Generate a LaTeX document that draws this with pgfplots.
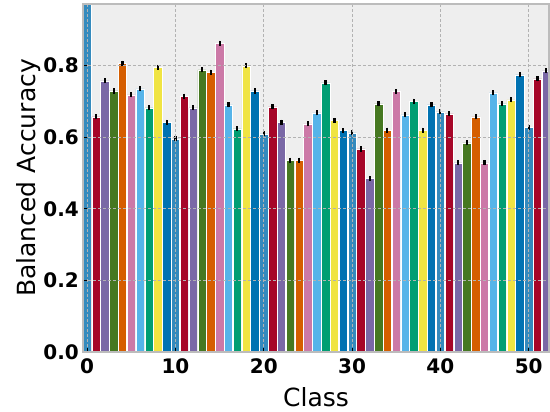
\documentclass[border=0pt]{standalone}
\usepackage{pgfplots}
\pgfplotsset{compat=1.18}
\usepackage{fontspec}
\setmainfont{DejaVu Sans}
\definecolor{c0}{HTML}{348ABD}
\definecolor{c1}{HTML}{A60628}
\definecolor{c2}{HTML}{7A68A6}
\definecolor{c3}{HTML}{467821}
\definecolor{c4}{HTML}{D55E00}
\definecolor{c5}{HTML}{CC79A7}
\definecolor{c6}{HTML}{56B4E9}
\definecolor{c7}{HTML}{009E73}
\definecolor{c8}{HTML}{F0E442}
\definecolor{c9}{HTML}{0072B2}
\definecolor{bgc}{HTML}{EEEEEE}
\definecolor{framec}{HTML}{BCBCBC}
\definecolor{gridc}{HTML}{B2B2B2}
\pgfplotsset{
  mybar/.style={ybar, bar width=0.95, bar shift=0pt, fill=#1, draw=white, line width=0.5pt,
    error bars/.cd, y dir=both, y explicit, error mark=none,
    error bar style={line width=2.2pt, black, solid}},
}
\begin{document}
\begin{tikzpicture}
\begin{axis}[
  scale only axis, width=466pt, height=348pt,
  xmin=-0.47, xmax=52.3, ymin=0, ymax=0.972,
  axis background/.style={fill=bgc},
  axis on top,
  axis line style={draw=framec, line width=1.2pt},
  grid=major,
  major grid style={draw=gridc, dash pattern=on 3pt off 2pt, line width=0.8pt},
  tick pos=left, tick align=inside, major tick length=4pt,
  tick style={black, line width=1pt},
  xtick={0,10,20,30,40,50},
  ytick={0,0.2,0.4,0.6,0.8},
  /pgf/number format/assume math mode=true,
  yticklabel style={/pgf/number format/fixed, /pgf/number format/fixed zerofill, /pgf/number format/precision=1, inner sep=0pt, xshift=-4pt},
  xticklabel style={inner sep=0pt, yshift=-6pt},
  ticklabel style={font=\fontsize{20}{22}\selectfont\bfseries},
  every axis x label/.style={at={(axis description cs:0.5,0)}, anchor=base, yshift=-54pt, font=\fontsize{25}{28}\selectfont},
  every axis y label/.style={at={(axis description cs:0,0.5)}, xshift=-47pt, rotate=90, anchor=base, font=\fontsize{25}{28}\selectfont},
  xlabel={Class}, ylabel={Balanced Accuracy},
]
\addplot[mybar=c0] coordinates {(0,1.0)+-(0,0.007) (10,0.595)+-(0,0.007) (20,0.609)+-(0,0.007) (30,0.612)+-(0,0.007) (40,0.671)+-(0,0.007) (50,0.628)+-(0,0.007)};
\addplot[mybar=c1] coordinates {(1,0.657)+-(0,0.007) (11,0.715)+-(0,0.007) (21,0.685)+-(0,0.007) (31,0.567)+-(0,0.007) (41,0.665)+-(0,0.007) (51,0.763)+-(0,0.007)};
\addplot[mybar=c2] coordinates {(2,0.757)+-(0,0.007) (12,0.682)+-(0,0.007) (22,0.642)+-(0,0.007) (32,0.485)+-(0,0.007) (42,0.528)+-(0,0.007) (52,0.785)+-(0,0.007)};
\addplot[mybar=c3] coordinates {(3,0.729)+-(0,0.007) (13,0.788)+-(0,0.007) (23,0.536)+-(0,0.007) (33,0.693)+-(0,0.007) (43,0.584)+-(0,0.007)};
\addplot[mybar=c4] coordinates {(4,0.807)+-(0,0.007) (14,0.782)+-(0,0.007) (24,0.536)+-(0,0.007) (34,0.620)+-(0,0.007) (44,0.657)+-(0,0.007)};
\addplot[mybar=c5] coordinates {(5,0.718)+-(0,0.007) (15,0.863)+-(0,0.007) (25,0.637)+-(0,0.007) (35,0.727)+-(0,0.007) (45,0.528)+-(0,0.007)};
\addplot[mybar=c6] coordinates {(6,0.735)+-(0,0.007) (16,0.690)+-(0,0.007) (26,0.668)+-(0,0.007) (36,0.662)+-(0,0.007) (46,0.724)+-(0,0.007)};
\addplot[mybar=c7] coordinates {(7,0.682)+-(0,0.007) (17,0.623)+-(0,0.007) (27,0.752)+-(0,0.007) (37,0.701)+-(0,0.007) (47,0.693)+-(0,0.007)};
\addplot[mybar=c8] coordinates {(8,0.796)+-(0,0.007) (18,0.799)+-(0,0.007) (28,0.647)+-(0,0.007) (38,0.620)+-(0,0.007) (48,0.704)+-(0,0.007)};
\addplot[mybar=c9] coordinates {(9,0.642)+-(0,0.007) (19,0.729)+-(0,0.007) (29,0.618)+-(0,0.007) (39,0.690)+-(0,0.007) (49,0.774)+-(0,0.007)};
\end{axis}
\pgfresetboundingbox
\path[use as bounding box] ([xshift=-83pt,yshift=-59pt]current axis.south west) rectangle ([xshift=1pt,yshift=4pt]current axis.north east);
\end{tikzpicture}
\end{document}
